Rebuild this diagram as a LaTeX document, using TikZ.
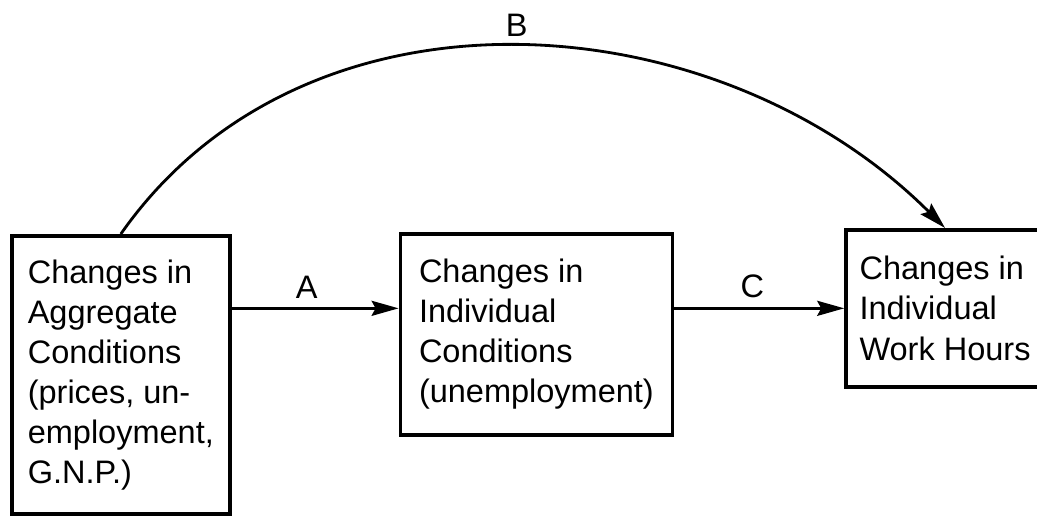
\documentclass[tikz,border=0pt]{standalone}
\usepackage{fontspec}
\setmainfont{Liberation Sans}
\usepackage{tikz}
\usetikzlibrary{arrows.meta,positioning}
\tikzset{
  box/.style  = {draw, line width=2.1pt, align=left, anchor=north west,
                 inner sep=0pt, font=\fontsize{18.5}{22.8}\selectfont},
  flow/.style = {-{Stealth[length=5.4mm, width=3mm, inset=0.8mm]},
                 line width=1.6pt},
  tag/.style  = {font=\fontsize{18.5}{22}\selectfont, inner sep=2pt},
}

\begin{document}
\begin{tikzpicture}[x=0.02cm, y=-0.02cm]
  \useasboundingbox (0,0) rectangle (1037,516);
  \node[box, minimum width=4.36cm, minimum height=5.56cm] (aggr) at (10,234)
    {Changes in\\ Aggregate\\ Conditions\\ (prices, un-\\ employment,\\ G.N.P.)};
  \node[box, minimum width=5.44cm, minimum height=4.02cm,
        right=3.34cm of aggr.north east, anchor=north west, yshift=0.04cm] (indiv)
    {Changes in\\ Individual\\ Conditions\\ (unemployment)};
  \node[box, minimum width=3.96cm, minimum height=3.14cm,
        right=3.4cm of indiv.north east, anchor=north west, yshift=0.08cm] (hours)
    {Changes in\\ Individual\\ Work Hours};
  % direct and indirect paths
  \draw[flow] (aggr.east |- hours.west) -- node[tag, above=3pt, pos=0.45] (labA) {A}
    (indiv.west |- hours.west);
  \draw[flow] (indiv.east |- hours.west) -- node[tag, above=3pt, pos=0.46] (labC) {C}
    (hours.west);
  \draw[flow] (aggr.north) to[out=55, in=135] node[tag, above=3pt] (labB) {B}
    (hours.north);
\end{tikzpicture}
\end{document}
